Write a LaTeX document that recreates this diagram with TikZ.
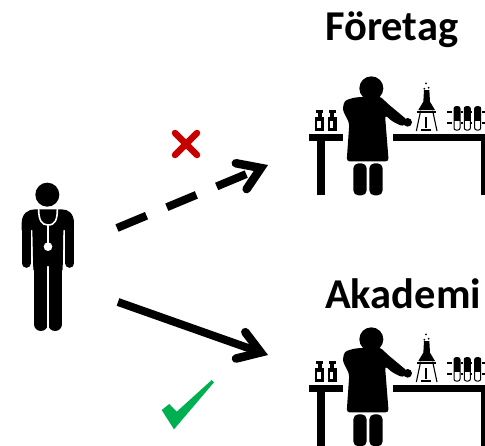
\documentclass[tikz,border=0pt]{standalone}
\usepackage{fontspec}
\setmainfont{Carlito}
\usetikzlibrary{arrows.meta}
\definecolor{crossred}{HTML}{C80000}
\definecolor{checkgreen}{HTML}{00B050}
\pgfdeclarearrow{
  name = FatBarb,
  setup code = {
    \pgfarrowssettipend{0pt}
    \pgfarrowssetlineend{-10pt}
    \pgfarrowssetbackend{-32pt}
    \pgfarrowssetvisualbackend{-10pt}
    \pgfarrowshullpoint{0pt}{0pt}
    \pgfarrowshullpoint{-32pt}{17pt}
    \pgfarrowshullpoint{-32pt}{-17pt}
  },
  drawing code = {
    \pgfsetdash{}{0pt}
    \pgfsetlinewidth{8.5pt}
    \pgfsetroundcap
    \pgfsetmiterjoin
    \pgfpathmoveto{\pgfqpoint{-29pt}{14pt}}
    \pgfpathlineto{\pgfqpoint{-7.7pt}{0pt}}
    \pgfpathlineto{\pgfqpoint{-29pt}{-14pt}}
    \pgfusepathqstroke
  }
}
\tikzset{
title/.style = {font=\bfseries\fontsize{42.5}{42.5}\selectfont, inner sep=0pt, anchor=base west},
reach/.style = {line width=8pt, draw=black, -{FatBarb}},
gap/.style = {draw=white, line width=1.6pt, line cap=round},
% scene is drawn on a 3x grid
pics/lab/.style = {code={
  \begin{scope}[scale=1/3]
    % table
    \fill (28,222) rectangle (128,243);
    \fill (278,222) rectangle (560,243);
    \fill (52,243) rectangle (76,404);
    \fill (542,243) rectangle (560,404);
    % person
    \fill (214,85) circle (36);
    \fill[rounded corners=3pt] (165,112) -- (242,110) -- (262,130) -- (322,180) -- (310,200) -- (278,185) -- (255,165) -- (266,304) -- (140,304) -- (148,190) -- (128,150) -- (133,122) -- cycle;
    \fill (323,187) circle (13);
    \fill[rounded corners=5pt] (160,310) -- (200,310) -- (200,406) -- (160,406) -- cycle;
    \fill[rounded corners=5pt] (208,310) -- (248,310) -- (248,406) -- (208,406) -- cycle;
    % bottles
    \foreach \bx in {45,83}{
      \fill (\bx+4,150) rectangle (\bx+24,158);
      \fill (\bx+8,158) rectangle (\bx+20,170);
      \fill (\bx,170) rectangle (\bx+27,212);
      \fill[white] (\bx+7,182) rectangle (\bx+17,203);
    }
    % flask
    \fill (372,90) -- (388,90) -- (390,125) -- (405,150) -- (355,150) -- (370,125) -- cycle;
    \draw[line width=1.1pt] (362,152) -- (349,213);
    \draw[line width=1.1pt] (398,152) -- (411,213);
    \draw[line width=1.3pt] (352,156) -- (408,156);
    \fill (376,170) rectangle (381,205);
    \fill (364,207) rectangle (393,213);
    \foreach \dx/\dy in {378/70,386/83,373/86}{
      \fill (\dx,\dy) circle (3);
    }
    % tubes
    \draw[line width=2pt, dash pattern=on 5pt off 1.6pt] (442,157) -- (560,157);
    \draw[line width=2pt, dash pattern=on 5pt off 1.6pt] (442,190) -- (560,190);
    \foreach \tx in {462,493,524}{
      \fill[white] (\tx-3,137) rectangle (\tx+21,212);
      \draw[line width=1pt, fill=white, rounded corners=2pt] (\tx,140) -- (\tx,210) -- (\tx+18,210) -- (\tx+18,140) -- cycle;
      \fill (\tx,140) rectangle (\tx+18,183);
    }
  \end{scope}
}},
pics/medic/.style = {code={
  \begin{scope}[scale=1/3]
    \fill (142,74) circle (36);
    % shoulders and torso
    \fill (65,160) .. controls (65,130) and (85,118) .. (105,118) -- (185,118) .. controls (205,118) and (222,130) .. (222,160) -- (222,180) -- (190,180) -- (188,300) -- (100,300) -- (97,180) -- (65,180) -- cycle;
    % arms
    \draw[line width=9pt, line cap=round] (78.5,160) -- (78.5,280);
    \draw[line width=9pt, line cap=round] (209.5,160) -- (209.5,280);
    % legs
    \draw[line width=14pt, line cap=round] (122,290) -- (122,462);
    \draw[line width=14pt, line cap=round] (166,290) -- (166,462);
    \draw[gap, line width=1.5pt] (144,290) -- (144,485);
    \draw[gap] (116,118) .. controls (116,150) and (125,165) .. (144,165) .. controls (165,165) and (172,150) .. (172,118);
    \draw[gap] (144,165) -- (144,225);
    \fill[white] (144,230) circle (13);
  \end{scope}
}}
}
\begin{document}
\begin{tikzpicture}[x=1pt,y=-1pt]
  \useasboundingbox (0,0) rectangle (485,445);
  \clip (0,0) rectangle (485,445);
  \pic at (0,170) {medic};
  \pic at (300,60) {lab};
  \pic at (300,311) {lab};
  \node [title] (foretag) at (325,40) {Företag};
  \node [title] (akademi) at (325,308) {Akademi};
  \coordinate (dashstart) at (117,228);
  \coordinate (dashend) at (268,165);
  \coordinate (solidstart) at (118,302);
  \coordinate (solidend) at (268,355);
  \draw [reach, dash pattern=on 32pt off 22pt] (dashstart) -- (dashend);
  \draw [reach] (solidstart) -- (solidend);
  % no and yes marks
  \draw [crossred, line width=6.5pt, line cap=round] (175,133) -- (197,155) (197,133) -- (175,155);
  \fill [checkgreen] (161.7,410) -- (169.3,404) -- (176.7,411.7) -- (211.7,380) -- (214,382.3) -- (174,429.3) -- cycle;
\end{tikzpicture}
\end{document}
